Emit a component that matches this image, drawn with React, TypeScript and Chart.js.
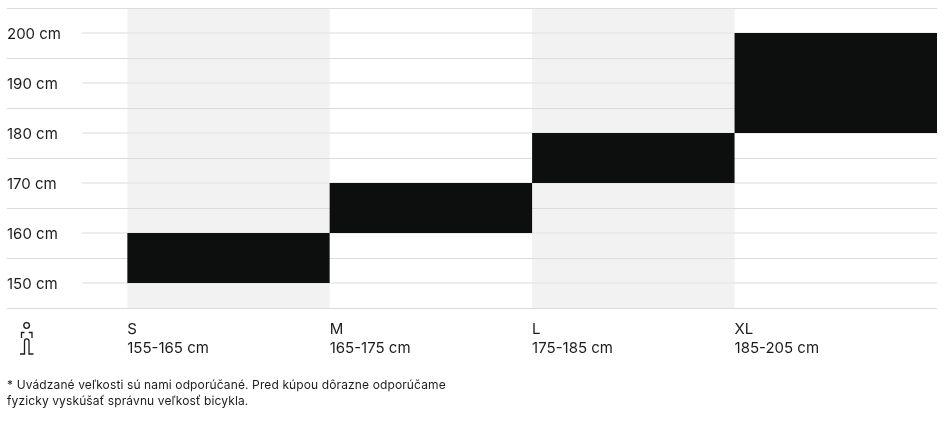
import React, { useEffect, useRef } from "react";
import { Chart, registerables } from "chart.js";

Chart.register(...registerables);

const sizes = ["S", "M", "L", "XL"];
const sizeRanges = ["155-165 cm", "165-175 cm", "175-185 cm", "185-205 cm"];
const heightBars: [number, number][] = [[150, 160], [160, 170], [170, 180], [180, 200]];
const bandBars: ([number, number] | null)[] = [[145, 205], null, [145, 205], null];
const labelledHeights = [150, 160, 170, 180, 190, 200];
const dividerHeights = [145, 155, 165, 175, 185, 195, 205];
const footnoteLines = [
  "* Uvádzané veľkosti sú nami odporúčané. Pred kúpou dôrazne odporúčame",
  "fyzicky vyskúšať správnu veľkosť bicykla.",
];

const FONT = "Inter";
const INK = "#1c1c1c";

const gridPlugin = {
  id: "heightGrid",
  afterDatasetDraw(chart: any, args: any) {
    if (args.index !== 1) return;
    const { ctx, scales, chartArea } = chart;
    ctx.save();
    ctx.strokeStyle = "#dcdcdc";
    ctx.lineWidth = 1;
    for (const v of dividerHeights) {
      const y = Math.round(scales.y.getPixelForValue(v)) + 0.5;
      ctx.beginPath();
      ctx.moveTo(7, y);
      ctx.lineTo(chartArea.right, y);
      ctx.stroke();
    }
    ctx.strokeStyle = "#e7e7e7";
    ctx.lineWidth = 1.5;
    for (const v of labelledHeights) {
      const y = Math.round(scales.y.getPixelForValue(v));
      ctx.beginPath();
      ctx.moveTo(82, y);
      ctx.lineTo(chartArea.right, y);
      ctx.stroke();
    }
    ctx.restore();
  },
};

export default function App() {
  const ref = useRef<HTMLCanvasElement>(null);
  useEffect(() => {
    const chart = new Chart(ref.current!, {
      type: "bar",
      data: {
        labels: sizes.map((s, i) => [s, sizeRanges[i]]),
        datasets: [
          {
            data: heightBars as any,
            backgroundColor: "#0d0f0e",
            barPercentage: 1,
            categoryPercentage: 1,
            grouped: false,
            inflateAmount: 0,
            order: 1,
          },
          {
            data: bandBars as any,
            backgroundColor: "#f2f2f2",
            barPercentage: 1,
            categoryPercentage: 1,
            grouped: false,
            inflateAmount: 0,
            order: 2,
          },
        ],
      },
      options: {
        animation: false,
        responsive: false,
        layout: { padding: { left: 7, right: 10, top: 8, bottom: 0 } },
        plugins: { legend: { display: false }, tooltip: { enabled: false } },
        scales: {
          x: {
            offset: true,
            border: { display: false },
            grid: { display: false },
            afterFit: (s: any) => {
              s.height = 115;
              s.paddingLeft = 0;
              s.paddingRight = 0;
            },
            ticks: {
              maxRotation: 0,
              autoSkip: false,
              align: "start",
              labelOffset: -101.25,
              padding: 4,
              color: INK,
              font: { family: FONT, size: 15, lineHeight: 1.25 },
            },
          },
          y: {
            min: 145,
            max: 205,
            border: { display: false },
            grid: { display: false },
            afterFit: (s: any) => {
              s.width = 120.2;
              s.paddingTop = 0;
              s.paddingBottom = 0;
            },
            afterBuildTicks: (s: any) => {
              s.ticks = labelledHeights.map((value) => ({ value }));
            },
            ticks: {
              crossAlign: "far",
              labelOffset: 1.5,
              color: INK,
              font: { family: FONT, size: 15 },
              callback: (v: any) => `${v} cm`,
            },
          },
        },
      },
      plugins: [gridPlugin],
    } as any);
    return () => chart.destroy();
  }, []);

  return (
    <div style={{ position: "absolute", left: 0, top: 0, width: 947, height: 423, background: "#fff", overflow: "hidden" }}>
      <canvas ref={ref} width={947} height={423} style={{ display: "block" }} />
      <svg width="30" height="40" viewBox="12 318 30 40" style={{ position: "absolute", left: 12, top: 318 }} fill="none" stroke={INK} strokeWidth="1.3">
        <circle cx="26.6" cy="325.5" r="2.8" />
        <path d="M21.5 338V332.5H24.5" />
        <path d="M28.7 332.5H32V338" />
        <path d="M20 354H24.5V341.2A2.25 2.25 0 0 1 29 341.2V354H33.5" />
      </svg>
      <div style={{ position: "absolute", left: 7, top: 377, fontFamily: FONT, fontSize: 12, lineHeight: "16px", letterSpacing: 0.12, color: INK, whiteSpace: "pre" }}>
        {footnoteLines.map((l) => (
          <div key={l}>{l}</div>
        ))}
      </div>
    </div>
  );
}
